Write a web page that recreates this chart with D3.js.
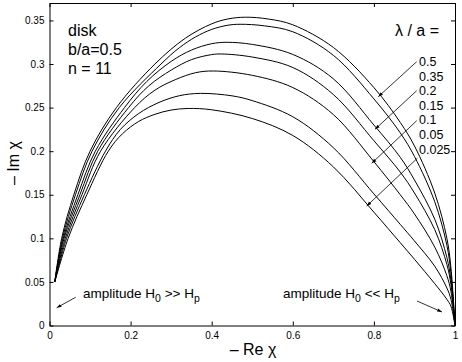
<!DOCTYPE html>
<html>
<head>
<meta charset="utf-8">
<script src="https://cdn.jsdelivr.net/npm/d3@7"></script>
<style>
  body { margin: 0; background: #fff; }
  svg { font-family: "Liberation Sans", Arial, sans-serif; }
</style>
</head>
<body>
<svg width="462" height="362"></svg>
<script>
  // lambda / a values, outer curve first
  const lambdas = ["0.5", "0.35", "0.2", "0.15", "0.1", "0.05", "0.025"];

  // curves: [ -Re chi, -Im chi ]
  const c050 = [[0.013,0.05],[0.03,0.1],[0.06,0.15],[0.1,0.2],[0.165,0.25],[0.26,0.3],[0.335,0.3296],[0.4,0.3461],[0.44,0.3517],[0.483,0.3537],[0.54,0.3516],[0.6,0.345],[0.7,0.319],[0.8,0.273],[0.865,0.233],[0.9,0.206],[0.95,0.152],[0.98,0.1],[0.99,0.066],[1,0]];
  const c035 = [[0.013,0.05],[0.032,0.1],[0.064,0.15],[0.105,0.2],[0.172,0.25],[0.275,0.3],[0.32,0.3186],[0.36,0.331],[0.4,0.3397],[0.44,0.3445],[0.47,0.3456],[0.53,0.3438],[0.6,0.337],[0.7,0.31],[0.8,0.26],[0.865,0.221],[0.9,0.194],[0.95,0.142],[0.98,0.092],[0.99,0.06],[1,0]];
  const c020 = [[0.013,0.05],[0.034,0.1],[0.07,0.15],[0.113,0.2],[0.185,0.25],[0.24,0.28],[0.3,0.303],[0.35,0.316],[0.4,0.3233],[0.4375,0.3249],[0.5,0.3225],[0.6,0.311],[0.7,0.283],[0.8,0.23],[0.865,0.193],[0.9,0.167],[0.95,0.122],[0.98,0.078],[0.99,0.052],[1,0]];
  const c015 = [[0.013,0.05],[0.036,0.1],[0.075,0.15],[0.119,0.2],[0.195,0.25],[0.245,0.275],[0.3,0.293],[0.35,0.305],[0.4,0.3108],[0.425,0.3115],[0.5,0.308],[0.6,0.296],[0.7,0.265],[0.8,0.212],[0.865,0.176],[0.9,0.152],[0.95,0.11],[0.98,0.07],[0.99,0.047],[1,0]];
  const c010 = [[0.013,0.05],[0.039,0.1],[0.08,0.15],[0.126,0.2],[0.21,0.25],[0.26,0.27],[0.31,0.282],[0.36,0.29],[0.404,0.292],[0.5,0.287],[0.6,0.273],[0.7,0.242],[0.8,0.188],[0.865,0.15],[0.9,0.128],[0.95,0.09],[0.98,0.057],[0.99,0.039],[1,0]];
  const c005 = [[0.013,0.05],[0.042,0.1],[0.086,0.15],[0.138,0.2],[0.175,0.225],[0.22,0.2432],[0.27,0.2559],[0.32,0.2636],[0.372,0.2663],[0.45,0.2635],[0.5,0.258],[0.6,0.2395],[0.7,0.204],[0.8,0.151],[0.865,0.116],[0.9,0.097],[0.95,0.068],[0.98,0.043],[0.99,0.03],[1,0]];
  const c0025 = [[0.013,0.05],[0.046,0.1],[0.092,0.15],[0.145,0.2],[0.18,0.22],[0.22,0.2341],[0.26,0.2423],[0.3,0.2472],[0.342,0.249],[0.4,0.2475],[0.5,0.2375],[0.6,0.218],[0.7,0.182],[0.8,0.13],[0.865,0.095],[0.9,0.076],[0.95,0.048],[0.98,0.03],[0.99,0.022],[1,0]];
  const curves = [c050, c035, c020, c015, c010, c005, c0025];

  const xTicks = [0, 0.2, 0.4, 0.6, 0.8, 1];
  const yTicks = [0, 0.05, 0.1, 0.15, 0.2, 0.25, 0.3, 0.35];
  const tickFmt = d => String(d);

  const svg = d3.select("svg");
  const L = 49.5, R = 455, T = 3, B = 325.5;
  const x = d3.scaleLinear().domain([0, 1]).range([L, R]);
  const y = d3.scaleLinear().domain([0, 0.37]).range([B, T]);

  svg.append("defs").append("marker")
    .attr("id", "ah").attr("viewBox", "0 0 10 10")
    .attr("refX", 10).attr("refY", 5)
    .attr("markerWidth", 6).attr("markerHeight", 6)
    .attr("orient", "auto")
    .append("path").attr("d", "M0,1.5L10,5L0,8.5Z").attr("fill", "#000");

  // axes (matlab box style, ticks inside)
  const ax = svg.append("g").attr("font-size", 12);
  ax.append("g").attr("transform", `translate(0,${B})`)
    .call(d3.axisBottom(x).tickValues(xTicks).tickFormat(tickFmt).tickSizeInner(-4).tickSizeOuter(0).tickPadding(6));
  ax.append("g").attr("transform", `translate(0,${T})`)
    .call(d3.axisTop(x).tickValues(xTicks).tickFormat("").tickSizeInner(-4).tickSizeOuter(0));
  ax.append("g").attr("transform", `translate(${L},0)`)
    .call(d3.axisLeft(y).tickValues(yTicks).tickFormat(tickFmt).tickSizeInner(-4).tickSizeOuter(0).tickPadding(5));
  ax.append("g").attr("transform", `translate(${R},0)`)
    .call(d3.axisRight(y).tickValues(yTicks).tickFormat("").tickSizeInner(-4).tickSizeOuter(0));
  ax.selectAll(".domain, .tick line").attr("stroke", "#000").attr("stroke-width", 1);
  ax.selectAll("text").attr("fill", "#000").attr("font-family", "Liberation Sans, Arial, sans-serif");

  // curves
  const line = d3.line().x(d => x(d[0])).y(d => y(d[1])).curve(d3.curveCatmullRom.alpha(0.5));
  svg.append("g").selectAll("path").data(curves).join("path")
    .attr("d", line).attr("fill", "none").attr("stroke", "#000").attr("stroke-width", 1);

  // text block
  const tb = svg.append("g").attr("font-size", 16).attr("fill", "#000");
  tb.append("text").attr("x", 68).attr("y", 36).text("disk");
  tb.append("text").attr("x", 68).attr("y", 55).text("b/a=0.5");
  tb.append("text").attr("x", 68).attr("y", 74).text("n = 11");
  tb.append("text").attr("x", 395).attr("y", 36).text("λ / a =");

  // legend values
  svg.append("g").attr("font-size", 12.5).selectAll("text").data(lambdas).join("text")
    .attr("x", 419).attr("y", (d, i) => 66 + i * 14.6).text(d => d);

  // arrows to curves
  const arrows = [[416.7, 61.7, 378.3, 96.7], [416.7, 90.7, 375, 129.3], [416.7, 120.7, 371.7, 163.3], [417.3, 158.3, 366.7, 206]];
  svg.append("g").selectAll("line").data(arrows).join("line")
    .attr("x1", d => d[0]).attr("y1", d => d[1]).attr("x2", d => d[2]).attr("y2", d => d[3])
    .attr("stroke", "#000").attr("stroke-width", 0.8).attr("marker-end", "url(#ah)");

  // amplitude notes
  const note = (x0, sym) => {
    const t = svg.append("text").attr("x", x0).attr("y", 298).attr("font-size", 13.5);
    t.append("tspan").text("amplitude H");
    t.append("tspan").attr("dy", 4).attr("font-size", 10.5).text("0");
    t.append("tspan").attr("dy", -4).text(` ${sym} H`);
    t.append("tspan").attr("dy", 4).attr("font-size", 10.5).text("p");
  };
  note(83, ">>");
  note(283, "<<");
  svg.append("line").attr("x1", 75.7).attr("y1", 297.3).attr("x2", 56.7).attr("y2", 307.7)
    .attr("stroke", "#000").attr("stroke-width", 0.8).attr("marker-end", "url(#ah)");
  svg.append("line").attr("x1", 417).attr("y1", 301).attr("x2", 442).attr("y2", 312)
    .attr("stroke", "#000").attr("stroke-width", 0.8).attr("marker-end", "url(#ah)");

  // axis titles
  svg.append("text").attr("x", 253).attr("y", 355).attr("text-anchor", "middle")
    .attr("font-size", 16).text("– Re χ");
  svg.append("text").attr("transform", "translate(19,163) rotate(-90)").attr("text-anchor", "middle")
    .attr("font-size", 16).text("– Im χ");
</script>
</body>
</html>
